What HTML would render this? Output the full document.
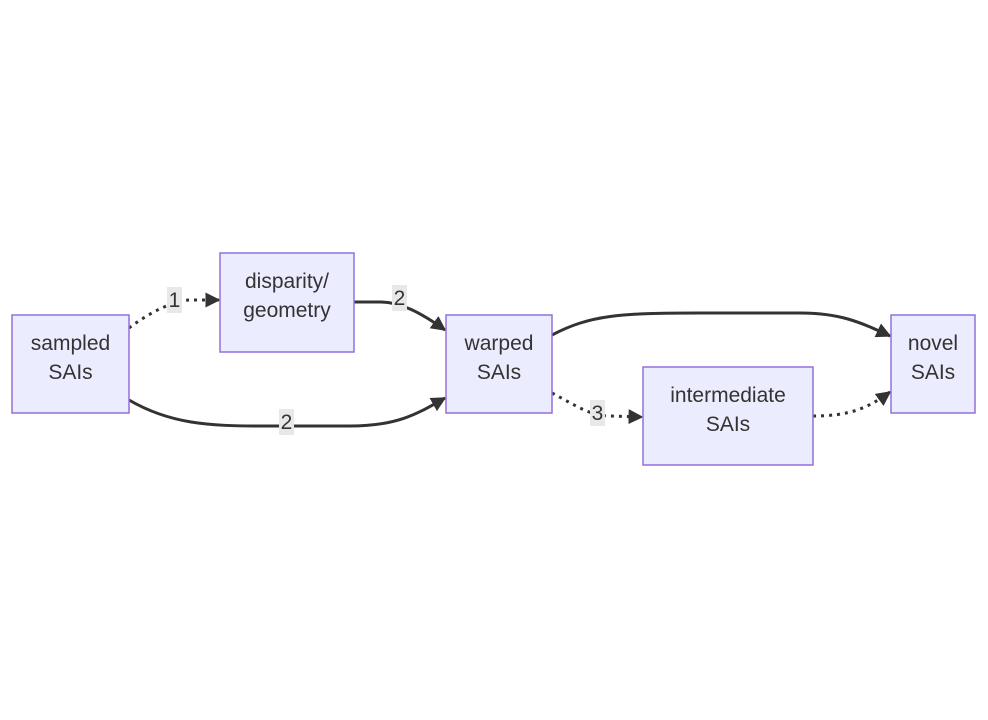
<!DOCTYPE html>
<html><head><meta charset="utf-8"><style>
html,body{margin:0;padding:0;background:#fff;}
svg{display:block;}
text{font-family:"Liberation Sans",sans-serif;font-size:21px;fill:#333;text-anchor:middle;}
.n{fill:#ECECFF;stroke:#9370DB;stroke-width:1.5;}
.e{fill:none;stroke:#333;stroke-width:3;}
.d{stroke-dasharray:3 5;}
.lb{fill:#e8e8e8;}
</style></head><body>
<svg width="988" height="720" viewBox="0 0 988 720">
<defs><marker id="a" viewBox="0 0 10 10" refX="9" refY="5" markerWidth="15" markerHeight="15" markerUnits="userSpaceOnUse" orient="auto"><path d="M0,0L10,5L0,10z" fill="#333"/></marker></defs>
<path class="e d" d="M129,328 C150,312 175,300 190,300 L219,300" marker-end="url(#a)"/>
<path class="e" d="M354,302 L380,302 C400,302 420,312 445,330" marker-end="url(#a)"/>
<path class="e" d="M129,400 C170,424 210,426 260,426 L350,426 C400,426 420,412 445,398" marker-end="url(#a)"/>
<path class="e" d="M552,335 C590,315 620,313 700,313 L800,313 C840,313 860,322 890,336" marker-end="url(#a)"/>
<path class="e d" d="M552,393 C575,405 590,416 610,416 L642,417" marker-end="url(#a)"/>
<path class="e d" d="M813,416 C850,416 868,408 890,392" marker-end="url(#a)"/>
<rect class="lb" x="167" y="287" width="15" height="26"/><text x="174.5" y="307">1</text>
<rect class="lb" x="392" y="285" width="15" height="26"/><text x="399.5" y="305">2</text>
<rect class="lb" x="279" y="409" width="15" height="26"/><text x="286.5" y="429">2</text>
<rect class="lb" x="590" y="400" width="15" height="26"/><text x="597.5" y="420">3</text>
<rect class="n" x="12" y="315" width="117" height="98"/><text x="70.5" y="350">sampled</text><text x="70.5" y="379">SAIs</text>
<rect class="n" x="220" y="253" width="134" height="99"/><text x="287" y="288">disparity/</text><text x="287" y="317">geometry</text>
<rect class="n" x="446" y="315" width="106" height="98"/><text x="499" y="350">warped</text><text x="499" y="379">SAIs</text>
<rect class="n" x="643" y="367" width="170" height="98"/><text x="728" y="402">intermediate</text><text x="728" y="431">SAIs</text>
<rect class="n" x="891" y="315" width="84" height="98"/><text x="933" y="350">novel</text><text x="933" y="379">SAIs</text>
</svg>
</body></html>
